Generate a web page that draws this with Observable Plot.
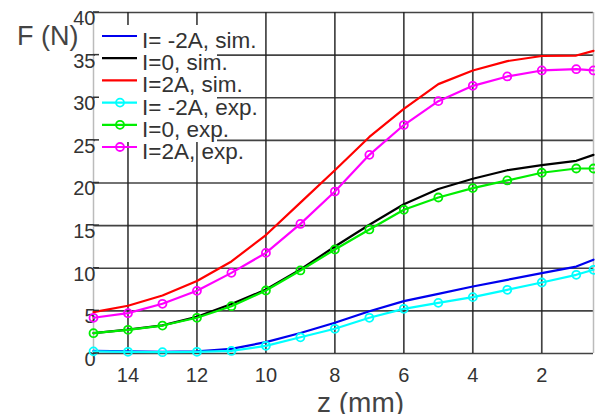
<!DOCTYPE html>
<html><head><meta charset="utf-8">
<script src="https://cdn.jsdelivr.net/npm/d3@7"></script>
<script src="https://cdn.jsdelivr.net/npm/@observablehq/plot@0.6"></script>
<style>
html,body{margin:0;padding:0;background:#fff;}
#chart{position:relative;width:595px;height:414px;}
</style></head><body><div id="chart"></div>
<script>
const zPos = [15,14,13,12,11,10,9,8,7,6,5,4,3,2,1,0.5];
const simBlue = [0.3,0.25,0.2,0.25,0.55,1.33,2.4,3.6,4.96,6.14,7.0,7.86,8.64,9.42,10.2,11.0];
const simBlack = [2.4,2.8,3.3,4.3,5.8,7.5,9.85,12.55,15.1,17.5,19.3,20.5,21.5,22.1,22.6,23.3];
const simRed = [4.85,5.6,6.8,8.5,10.8,13.9,17.7,21.5,25.4,28.7,31.6,33.2,34.3,34.9,34.95,35.5];
const expCyan = [0.25,0.2,0.15,0.2,0.3,0.9,1.9,2.9,4.19,5.24,5.94,6.61,7.47,8.33,9.23,9.82];
const expGreen = [2.38,2.78,3.28,4.19,5.55,7.39,9.74,12.2,14.55,16.86,18.3,19.4,20.3,21.2,21.7,21.7];
const expMagenta = [4.19,4.73,5.83,7.35,9.46,11.8,15.2,19.0,23.3,26.8,29.6,31.4,32.5,33.2,33.35,33.2];
const seriesNames = ["I= -2A, sim.", "I=0, sim.", "I=2A, sim.", "I= -2A, exp.", "I=0, exp.", "I=2A, exp."];
const seriesColors = ["#0000ee", "#000000", "#ff0000", "#00ffff", "#00ee00", "#ff00ff"];
const xTicks = [14,12,10,8,6,4,2];
const yTicks = [0,5,10,15,20,25,30,35,40];
const xDomain = [15, 0.5];
const yDomain = [0, 40];
const yLabel = "F (N)";
const xLabel = "z (mm)";

const allValues = [simBlue, simBlack, simRed, expCyan, expGreen, expMagenta];
const rows = [];
allValues.forEach((vals, i) => vals.forEach((v, j) => rows.push({z: zPos[j], F: v, series: seriesNames[i], exp: i >= 3})));

const font = "'Liberation Sans', Arial, sans-serif";
const plot = Plot.plot({
  width: 595, height: 414,
  marginLeft: 93, marginRight: 2, marginTop: 12, marginBottom: 61,
  style: {fontFamily: font, fontSize: "20px", color: "#333", background: "#fff"},
  x: {domain: xDomain, label: null},
  y: {domain: yDomain, label: null},
  color: {domain: seriesNames, range: seriesColors},
  marks: [
    Plot.gridX(xTicks, {stroke: "#222", strokeOpacity: 0.85, strokeWidth: 1.7}),
    Plot.gridY(yTicks, {stroke: "#222", strokeOpacity: 0.85, strokeWidth: 1.7}),
    Plot.ruleX(xDomain, {stroke: "#bbb", strokeWidth: 1.5}),
    Plot.axisX(xTicks, {tickSize: 0, tickPadding: 14, fontSize: 20, fill: "#333", label: null}),
    Plot.axisY(yTicks, {tickSize: 0, tickPadding: -2, dy: 6, fontSize: 20, fill: "#333", label: null}),
    Plot.line(rows, {x: "z", y: "F", stroke: "series", strokeWidth: 2.2}),
    Plot.dot(rows.filter(d => d.exp), {x: "z", y: "F", stroke: "series", r: 4, strokeWidth: 1.8, fill: "none"})
  ]
});

const svg = d3.select(plot);
const ys = plot.scale("y");
const lg = svg.append("g");
lg.append("rect").attr("x", 95).attr("y", 25).attr("width", 122).attr("height", 117).attr("fill", "#fff");
yTicks.forEach(t => {
  const yy = ys.apply(t);
  lg.append("line").attr("x1", 93).attr("x2", 99).attr("y1", yy).attr("y2", yy).attr("stroke", "#333").attr("stroke-width", 1.5);
});
function addText(g, x, y, size, fill, str) {
  return g.append("text").attr("x", x).attr("y", y)
    .style("font-size", size + "px").style("text-anchor", "start").style("font-family", font)
    .attr("fill", fill).text(str);
}
seriesNames.forEach((name, i) => {
  const yb = 48 + i * 22.2;
  const yl = yb - 12;
  lg.append("line").attr("x1", 102).attr("x2", 137).attr("y1", yl).attr("y2", yl)
    .attr("stroke", seriesColors[i]).attr("stroke-width", 2.2);
  if (i >= 3) {
    lg.append("circle").attr("cx", 120).attr("cy", yl).attr("r", 4)
      .attr("fill", "none").attr("stroke", seriesColors[i]).attr("stroke-width", 1.8);
  }
  addText(lg, 142, yb, 22.5, "#333", name);
});
addText(svg, 17, 45, 27, "#444", yLabel);
addText(svg, 317, 412, 28, "#444", xLabel);

document.getElementById("chart").appendChild(plot);
</script>
</body></html>
